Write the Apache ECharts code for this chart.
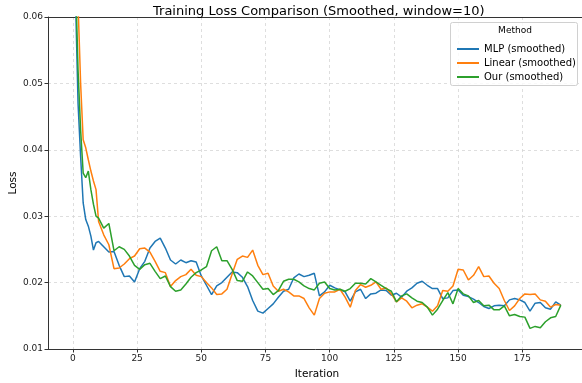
<!DOCTYPE html>
<html>
<head>
<meta charset="utf-8">
<script src="https://cdn.jsdelivr.net/npm/echarts@6/dist/echarts.min.js"></script>
<style>
    html, body { margin: 0; padding: 0; background: #fff; }
    #chart { width: 582px; height: 383px; }
</style>
</head>
<body>
<div id="chart"></div>
<script>
    // iterations (x) shared by all three curves
    var iterations = [0, 1, 2, 3, 4, 5, 6, 7, 8, 9, 10,
        12, 14, 16, 18, 20, 22, 24, 26, 28, 30, 32, 34, 36, 38, 40,
        42, 44, 46, 48, 50, 52, 54, 56, 58, 60, 62, 64, 66, 68, 70,
        72, 74, 76, 78, 80, 82, 84, 86, 88, 90, 92, 94, 96, 98, 100,
        102, 104, 106, 108, 110, 112, 114, 116, 118, 120, 122, 124, 126, 128, 130,
        132, 134, 136, 138, 140, 142, 144, 146, 148, 150, 152, 154, 156, 158, 160,
        162, 164, 166, 168, 170, 172, 174, 176, 178, 180, 182, 184, 186, 188, 190]

    var mlpLoss = [0.090, 0.063, 0.047, 0.039, 0.032, 0.0295, 0.0285, 0.027, 0.0249, 0.026, 0.0262,
        0.0254, 0.0246, 0.0247, 0.0226, 0.0209, 0.0210, 0.0201, 0.0221, 0.0232, 0.0252, 0.0262, 0.0267, 0.0252, 0.0234, 0.0228,
        0.0234, 0.0230, 0.0233, 0.0231, 0.0210, 0.0196, 0.0182, 0.0195, 0.0200, 0.0208, 0.0216, 0.0215, 0.0208, 0.0194, 0.0173,
        0.0157, 0.0154, 0.0161, 0.0168, 0.0178, 0.0187, 0.0190, 0.0207, 0.0213, 0.0209, 0.0211, 0.0214, 0.0180, 0.0186, 0.0196,
        0.0192, 0.0189, 0.0186, 0.0172, 0.0186, 0.0190, 0.0176, 0.0183, 0.0184, 0.0189, 0.0188, 0.0181, 0.0184, 0.0178, 0.0187,
        0.0192, 0.0199, 0.0202, 0.0196, 0.0191, 0.0191, 0.0176, 0.0177, 0.0188, 0.0189, 0.0181, 0.0179, 0.0175, 0.0170, 0.0164,
        0.0161, 0.0165, 0.0166, 0.0165, 0.0174, 0.0176, 0.0174, 0.0170, 0.0157, 0.0169, 0.0170, 0.0162, 0.0160, 0.0171, 0.0166]

    var linearLoss = [0.100, 0.080, 0.062, 0.050, 0.0415, 0.0403, 0.0385, 0.0368, 0.0353, 0.0340, 0.0292,
        0.0272, 0.0257, 0.0221, 0.0222, 0.0228, 0.0236, 0.0240, 0.0251, 0.0252, 0.0246, 0.0232, 0.0217, 0.0215, 0.0194, 0.0203,
        0.0209, 0.0212, 0.0220, 0.0211, 0.0209, 0.0200, 0.0192, 0.0182, 0.0183, 0.0190, 0.0213, 0.0235, 0.0240, 0.0238, 0.0249,
        0.0226, 0.0212, 0.0214, 0.0195, 0.0187, 0.0190, 0.0186, 0.0180, 0.0180, 0.0176, 0.0162, 0.0151, 0.0176, 0.0184, 0.0186,
        0.0186, 0.0190, 0.0178, 0.0163, 0.0188, 0.0197, 0.0193, 0.0196, 0.0201, 0.0190, 0.0192, 0.0183, 0.0171, 0.0177, 0.0172,
        0.0162, 0.0166, 0.0168, 0.0163, 0.0157, 0.0165, 0.0188, 0.0187, 0.0195, 0.0220, 0.0219, 0.0204, 0.0211, 0.0224, 0.0209,
        0.0210, 0.0199, 0.0191, 0.0173, 0.0158, 0.0165, 0.0176, 0.0183, 0.0182, 0.0183, 0.0174, 0.0172, 0.0163, 0.0167, 0.0166]

    var ourLoss = [0.090, 0.066, 0.052, 0.043, 0.0365, 0.0358, 0.0368, 0.0340, 0.0318, 0.0300, 0.0297,
        0.0282, 0.0289, 0.0248, 0.0254, 0.0250, 0.0240, 0.0226, 0.0220, 0.0227, 0.0229, 0.0217, 0.0206, 0.0210, 0.0194, 0.0187,
        0.0189, 0.0198, 0.0208, 0.0215, 0.0219, 0.0224, 0.0248, 0.0254, 0.0233, 0.0233, 0.0220, 0.0203, 0.0202, 0.0216, 0.0210,
        0.0200, 0.0190, 0.0191, 0.0182, 0.0188, 0.0202, 0.0205, 0.0205, 0.0201, 0.0195, 0.0191, 0.0189, 0.0199, 0.0201, 0.0191,
        0.0189, 0.0190, 0.0187, 0.0191, 0.0199, 0.0199, 0.0198, 0.0206, 0.0201, 0.0196, 0.0191, 0.0187, 0.0171, 0.0180, 0.0183,
        0.0177, 0.0172, 0.0170, 0.0163, 0.0151, 0.0160, 0.0173, 0.0185, 0.0168, 0.0191, 0.0183, 0.0180, 0.0170, 0.0173, 0.0165,
        0.0166, 0.0159, 0.0159, 0.0165, 0.0150, 0.0152, 0.0149, 0.0148, 0.0131, 0.0134, 0.0132, 0.0141, 0.0147, 0.0149, 0.0166]

    var xTicks = [0, 25, 50, 75, 100, 125, 150, 175]
    var seriesNames = ['MLP (smoothed)', 'Linear (smoothed)', 'Our (smoothed)']
    var seriesColors = ['#1f77b4', '#ff7f0e', '#2ca02c']

    function pairs(values) {
        var out = []
        for (var i = 0; i < iterations.length; i++) {
            out.push([iterations[i], values[i]])
        }
        return out
    }

    var font = 'DejaVu Sans'
    var gridLine = { show: true, lineStyle: { color: '#d6d6d6', type: [3, 3], width: 0.8 } }
    var myChart = echarts.init(document.getElementById('chart'))

    var lineSeries = [mlpLoss, linearLoss, ourLoss].map(function (vals, idx) {
        return {
            type: 'line',
            name: seriesNames[idx],
            xAxisIndex: 0,
            data: pairs(vals),
            showSymbol: false,
            symbol: 'none',
            clip: true,
            lineStyle: { width: 1.5, color: seriesColors[idx] },
            itemStyle: { color: seriesColors[idx] },
            emphasis: { disabled: true },
            z: 3 + idx
        }
    })

    var option = {
        animation: false,
        backgroundColor: '#fff',
        title: {
            text: 'Training Loss Comparison (Smoothed, window=10)',
            left: 148,
            top: 0,
            textStyle: { fontFamily: font, fontSize: 13, fontWeight: 'normal', color: '#000' }
        },
        grid: {
            left: 48,
            right: -4,
            top: 17,
            bottom: 34,
            outerBoundsMode: 'none',
            containLabel: false
        },
        legend: {
            orient: 'vertical',
            left: 452,
            top: 39,
            icon: 'rect',
            itemWidth: 22,
            itemHeight: 2,
            itemGap: 4,
            data: seriesNames,
            textStyle: { fontFamily: font, fontSize: 10, color: '#000' },
            z: 10
        },
        graphic: [{
            type: 'rect',
            shape: { x: 450.5, y: 22.5, width: 127, height: 63, r: 2 },
            style: { fill: 'rgba(255,255,255,0.8)', stroke: '#d0d0d0', lineWidth: 1 },
            z: 9
        }, {
            type: 'text',
            x: 515,
            y: 31,
            style: {
                text: 'Method',
                fontFamily: font,
                fontSize: 9,
                fill: '#000',
                align: 'center',
                verticalAlign: 'middle'
            },
            z: 10
        }],
        xAxis: [{
            type: 'value',
            min: -9.7,
            max: 199.8,
            name: 'Iteration',
            nameLocation: 'middle',
            nameGap: 20,
            nameTextStyle: { fontFamily: font, fontSize: 10.5, color: '#000' },
            axisLine: { onZero: false, lineStyle: { color: '#333', width: 1 } },
            axisTick: { length: 3.5, lineStyle: { color: '#333' }, customValues: xTicks },
            axisLabel: {
                fontFamily: font, fontSize: 9, color: '#222', margin: 5,
                customValues: xTicks
            },
            splitLine: gridLine
        }, {
            // top spine only
            type: 'value',
            position: 'top',
            min: -9.7,
            max: 199.8,
            axisLine: { show: true, onZero: false, lineStyle: { color: '#333', width: 1 } },
            axisTick: { show: false },
            axisLabel: { show: false },
            splitLine: { show: false }
        }],
        yAxis: {
            type: 'value',
            min: 0.01,
            max: 0.06,
            interval: 0.01,
            name: 'Loss',
            nameLocation: 'middle',
            nameGap: 29,
            nameRotate: 90,
            nameMoveOverlap: false,
            nameTextStyle: { fontFamily: font, fontSize: 10.5, color: '#000' },
            axisLine: { show: true, onZero: false, lineStyle: { color: '#333', width: 1 } },
            axisTick: { show: true, length: 3.5, lineStyle: { color: '#333' } },
            axisLabel: {
                fontFamily: font, fontSize: 9, color: '#222', margin: 5,
                formatter: function (v) { return v.toFixed(2) }
            },
            splitLine: gridLine
        },
        series: lineSeries
    }

    myChart.setOption(option)
</script>
</body>
</html>
